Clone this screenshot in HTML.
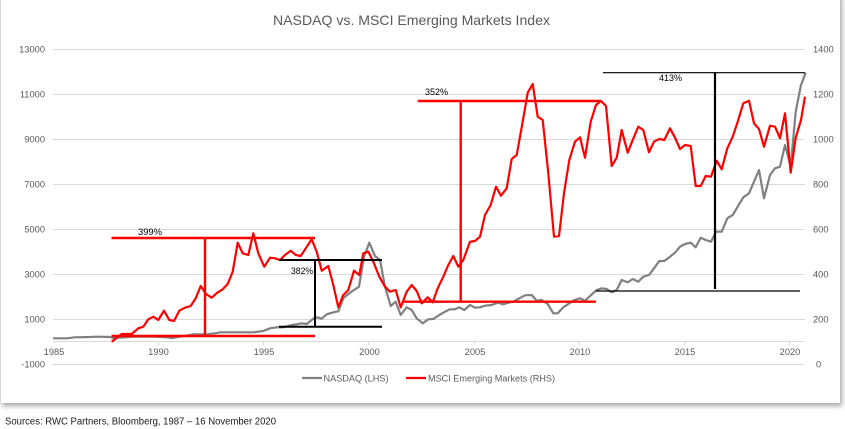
<!DOCTYPE html>
<html>
<head>
<meta charset="utf-8">
<style>
  html,body{margin:0;padding:0;background:#ffffff;}
  body{width:845px;height:429px;position:relative;overflow:hidden;}
  .panel{position:absolute;left:0;top:-6px;width:840px;height:409px;background:#fff;
    box-shadow:2px 3px 5px rgba(0,0,0,0.35);border-left:1px solid #d8d8d8;box-sizing:border-box;}
  svg{position:absolute;left:0;top:0;}
  text{font-family:"Liberation Sans",Arial,sans-serif;}
</style>
</head>
<body>
<div class="panel"></div>
<svg width="845" height="429" viewBox="0 0 845 429" xmlns="http://www.w3.org/2000/svg">
  <!-- title -->
  <text x="411.5" y="25" font-size="14" fill="#595959" text-anchor="middle" textLength="277" lengthAdjust="spacingAndGlyphs">NASDAQ vs. MSCI Emerging Markets Index</text>

  <!-- gridlines -->
  <g stroke="#d9d9d9" stroke-width="1">
    <line x1="53" y1="49.5" x2="805" y2="49.5"/>
    <line x1="53" y1="94.5" x2="805" y2="94.5"/>
    <line x1="53" y1="139.5" x2="805" y2="139.5"/>
    <line x1="53" y1="184.5" x2="805" y2="184.5"/>
    <line x1="53" y1="229.5" x2="805" y2="229.5"/>
    <line x1="53" y1="274.5" x2="805" y2="274.5"/>
    <line x1="53" y1="319.5" x2="805" y2="319.5"/>
    <line x1="53" y1="341.5" x2="805" y2="341.5"/>
    <line x1="53" y1="364.5" x2="805" y2="364.5"/>
  </g>
  <!-- x ticks -->
  <g stroke="#d9d9d9" stroke-width="1">
    <line x1="158.5" y1="341" x2="158.5" y2="345"/>
    <line x1="263.5" y1="341" x2="263.5" y2="345"/>
    <line x1="368.5" y1="341" x2="368.5" y2="345"/>
    <line x1="474.5" y1="341" x2="474.5" y2="345"/>
    <line x1="579.5" y1="341" x2="579.5" y2="345"/>
    <line x1="684.5" y1="341" x2="684.5" y2="345"/>
    <line x1="789.5" y1="341" x2="789.5" y2="345"/>
  </g>

  <!-- left axis labels -->
  <g font-size="9.3" fill="#595959" text-anchor="end">
    <text x="45" y="52.5">13000</text>
    <text x="45" y="97.5">11000</text>
    <text x="45" y="142.5">9000</text>
    <text x="45" y="187.5">7000</text>
    <text x="45" y="232.5">5000</text>
    <text x="45" y="277.5">3000</text>
    <text x="45" y="322.5">1000</text>
    <text x="45" y="367.5">-1000</text>
  </g>
  <!-- right axis labels -->
  <g font-size="9.3" fill="#595959" text-anchor="start">
    <text x="813" y="52.5">1400</text>
    <text x="813" y="97.5">1200</text>
    <text x="813" y="142.5">1000</text>
    <text x="813" y="187.5">800</text>
    <text x="813" y="232.5">600</text>
    <text x="813" y="277.5">400</text>
    <text x="813" y="322.5">200</text>
    <text x="816" y="367.5">0</text>
  </g>
  <!-- x labels -->
  <g font-size="9.3" fill="#595959" text-anchor="middle">
    <text x="54" y="355">1985</text>
    <text x="158.5" y="355">1990</text>
    <text x="264" y="355">1995</text>
    <text x="369.5" y="355">2000</text>
    <text x="475" y="355">2005</text>
    <text x="580" y="355">2010</text>
    <text x="685" y="355">2015</text>
    <text x="790" y="355">2020</text>
  </g>

  <!-- NASDAQ gray series -->
  <polyline fill="none" stroke="#808080" stroke-width="2.2" stroke-linejoin="round"
    points="53,338.3 66.7,338.3 75,337.3 90,337 96.7,336.7 110,337 113,338 125,337.3 133.3,336.7 153.3,336.7 166.7,337.3 171.7,338 180,336.7 193.3,334.3 206.7,334.3 215,333.3 220,332.3 233.3,332.3 253.3,332.3 263.3,331 270,328.3 276.7,327.3 283.3,327.3 291.7,325 296.7,324.3 301.7,323.3 306.7,324 313.3,318.7 317.3,317.3 321.7,318.7 326.7,314.3 333.3,312.3 338.3,311.3 343.3,298.3 348.3,294 354,290 359,286.7 364,256.7 369.3,242.7 375,256 380,260 385,286.7 390.7,306 395.7,301.7 400.7,315 406.7,307.3 411.7,310 416.7,318.3 422.7,323.3 428.3,319.3 433.3,319 439.3,315 445,311.7 450,309.3 455,309.3 459.3,307.3 464.3,310 470,305 475,307.7 480,307.3 485,305.7 491.7,305 497.7,302.7 503.3,304.3 508.3,302.7 513.3,301.7 519.3,298.3 525,295.3 531.7,295 536.7,300.7 541.7,300 547.7,304 553.3,313.3 557.7,313.3 563.3,307.3 569.3,303.3 574.3,300 580,298.3 585,300.7 590,296 596.7,290 601.7,288.3 606.7,289 611.7,292.3 616.7,290 621.7,280 627.7,282.3 632.7,279 638.3,281.7 643.3,276.7 649,275 654,268.3 659.3,261 664.3,261 670,256.7 675,252.7 680,246.7 685,244 690.7,242.7 695.7,247.3 700.7,237.7 705.7,240 711,241.7 716,231.7 721.7,231.7 727.3,218.3 732.7,215 737.7,206.7 743.3,197.3 749,193.3 754,181.7 759,170 764,198.3 770,175 775,168.3 780,166.7 785,145 790.7,166.7 795.7,111.7 801,85 805.7,72.7"/>

  <!-- MSCI EM red series -->
  <polyline fill="none" stroke="#ff0000" stroke-width="2.2" stroke-linejoin="round"
    points="111.7,341.7 121.7,334 131.7,334 138.3,328.3 143.3,326.7 148.3,319.3 153.3,316.7 158.3,320 164,310.7 169.3,320 174,321 179.3,310.7 185,307.7 190.7,306 195.7,298.3 200.7,286 206,294 211.7,297.7 217.3,292.7 222.7,289.3 227.7,284 232.7,271.7 237.7,242.7 242.7,253.3 248.3,255 253.3,233.3 258.3,253.3 264.3,266.7 270,257.7 275,258.3 280,260 285,255 290.7,250.7 295.7,255 300.7,256 311.7,239.3 316.7,251.7 321.7,270.7 328.3,266 333.3,285 338.3,307.3 343.3,295 348.3,290 354,270.7 359.3,275 363.3,253.3 368.3,251.7 373.3,261.7 379.3,276.7 385,286.7 390,291.7 395.7,290 400.7,307.3 406.7,291.7 411.7,285 416.7,291 421.7,303.3 427.7,297.3 432.7,302.3 437.7,288.3 443.3,276.7 448.3,265 453.3,256 458.3,266.7 463.3,260 470,241.7 475,241 480,236.7 485,215 490.7,205 496,186.7 501,195.7 506.7,188.3 511.7,159 516.7,155 522.7,121.7 527.7,92.7 532.7,84 537.7,116.7 542.7,120 548.3,173.3 554,236.7 559,236 564,193.3 569.3,160 575,141.7 580,137.3 585,157.7 590.7,121.7 596,105 601,101 606,106 611.7,166 616.7,157.7 621.7,130 627.7,152.7 632.7,140 638.3,126.7 643.3,130 649,152.3 654,141.7 659.3,139 664.3,140 670,128.3 675,137.7 680,149 685,145 690.7,146 695.7,186 700.7,186 705.7,176 711,176.7 716.7,160.7 721.7,169.3 727.3,148.3 732.7,136.7 737.7,121.7 743.3,103.3 749,100.7 754,123.3 759,129 764,146.7 770,125.7 775,126.7 780,138.3 785,113.3 790.7,172.7 795.7,137.7 801,120 805,96.7"/>

  <!-- 399% annotation (red) -->
  <g stroke="#ff0000" stroke-width="2.4">
    <line x1="111.5" y1="238" x2="315" y2="238"/>
    <line x1="111.5" y1="336" x2="315" y2="336"/>
    <line x1="205" y1="238" x2="205" y2="336"/>
  </g>
  <!-- 382% annotation (black) -->
  <g stroke="#000000" stroke-width="2">
    <line x1="279" y1="260" x2="382" y2="260"/>
    <line x1="279" y1="326.7" x2="382" y2="326.7"/>
    <line x1="315" y1="260" x2="315" y2="327"/>
  </g>
  <!-- 352% annotation (red) -->
  <g stroke="#ff0000" stroke-width="2.4">
    <line x1="417.7" y1="101" x2="601" y2="101"/>
    <line x1="402" y1="301.7" x2="596" y2="301.7"/>
    <line x1="460.7" y1="101" x2="460.7" y2="302"/>
  </g>
  <!-- 413% annotation (black) -->
  <g stroke="#000000">
    <line x1="603" y1="72.7" x2="805" y2="72.7" stroke-width="1.2"/>
    <line x1="596" y1="291" x2="800" y2="291" stroke-width="1.2"/>
    <line x1="715" y1="72" x2="715" y2="289" stroke-width="2.2"/>
  </g>

  <!-- annotation labels -->
  <g font-size="9" fill="#000000">
    <text x="138" y="235" textLength="24" lengthAdjust="spacingAndGlyphs">399%</text>
    <text x="291" y="274" textLength="22" lengthAdjust="spacingAndGlyphs">382%</text>
    <text x="425" y="95" textLength="23" lengthAdjust="spacingAndGlyphs">352%</text>
    <text x="659" y="81" textLength="23" lengthAdjust="spacingAndGlyphs">413%</text>
  </g>

  <!-- legend -->
  <line x1="302" y1="378" x2="322" y2="378" stroke="#808080" stroke-width="2.2"/>
  <text x="323.5" y="381.5" font-size="9.3" fill="#595959" textLength="65" lengthAdjust="spacingAndGlyphs">NASDAQ (LHS)</text>
  <line x1="406" y1="378" x2="426" y2="378" stroke="#ff0000" stroke-width="2.2"/>
  <text x="428" y="381.5" font-size="9.3" fill="#595959" textLength="127" lengthAdjust="spacingAndGlyphs">MSCI Emerging Markets (RHS)</text>

  <!-- source -->
  <text x="5" y="424.5" font-size="10" fill="#1a1a1a" textLength="271" lengthAdjust="spacingAndGlyphs">Sources: RWC Partners, Bloomberg, 1987 – 16 November 2020</text>
</svg>
</body>
</html>
